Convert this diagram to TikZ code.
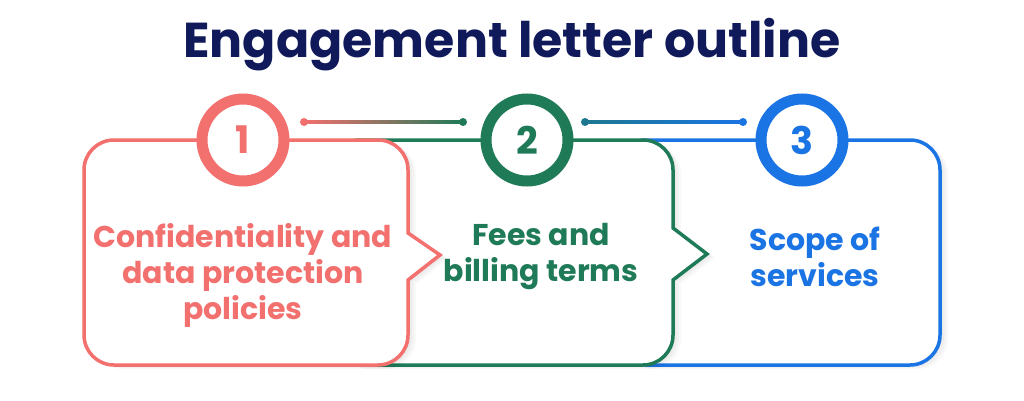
\documentclass[tikz,border=0pt]{standalone}
\usepackage{fontspec}
\setmainfont{Poppins}
\usetikzlibrary{calc}
\definecolor{cred}{HTML}{F2706E}
\definecolor{cgreen}{HTML}{1F7A57}
\definecolor{cblue}{HTML}{1B74E4}
\definecolor{cnavy}{HTML}{101A5A}
% #1 left, #2 right, #3 top, #4 bottom
\newcommand\plainboxpath[4]{(#1+30,#3) -- (#2-30,#3) arc[start angle=90,end angle=0,radius=30] -- (#2,#4+30) arc[start angle=0,end angle=-90,radius=30] -- (#1+30,#4) arc[start angle=270,end angle=180,radius=30] -- (#1,#3-30) arc[start angle=180,end angle=90,radius=30] -- cycle}
% #5 notch upper y, #6 tip x, #7 tip y, #8 notch lower y
\newcommand\notchboxpath[8]{(#1+30,#3) -- (#2-30,#3) arc[start angle=90,end angle=0,radius=30] -- (#2,#5) -- (#6,#7) -- (#2,#8) -- (#2,#4+30) arc[start angle=0,end angle=-90,radius=30] -- (#1+30,#4) arc[start angle=270,end angle=180,radius=30] -- (#1,#3-30) arc[start angle=180,end angle=90,radius=30] -- cycle}
\tikzset{
  boxline/.style={line width=3.5pt, fill=white},
  shadowfill/.style={fill=black, fill opacity=0.025, draw=none},
  ring/.style={circle, minimum size=82pt, inner sep=0pt, line width=11pt, fill=white, font=\bfseries\fontsize{38}{44}\selectfont},
  boxtext/.style={align=center, font=\bfseries\fontsize{30}{36}\selectfont},
  dot/.style={circle, inner sep=0pt, minimum size=8pt},
}
\begin{document}
\begin{tikzpicture}[x=1pt,y=1pt]
\useasboundingbox (0,0) rectangle (1024,400);
\fill[white] (0,0) rectangle (1024,400);
% title
\node[font=\bfseries\fontsize{49}{56}\selectfont, text=cnavy, anchor=base] (title) at (512,343) {Engagement letter outline};
% box 3
\foreach \s in {2,4,6,8}{\fill[shadowfill, xshift=\s pt, yshift=-\s*0.5 pt] \plainboxpath{616}{940}{260}{35};}
\draw[boxline, draw=cblue] \plainboxpath{616}{940}{260}{35};
% box 2
\foreach \s in {2,4,6,8}{\fill[shadowfill, xshift=\s pt, yshift=-\s*0.5 pt] \notchboxpath{330}{673}{260}{35}{172}{707}{146}{120};}
\draw[boxline, draw=cgreen] \notchboxpath{330}{673}{260}{35}{172}{707}{146}{120};
% box 1
\foreach \s in {2,4,6,8}{\fill[shadowfill, xshift=\s pt, yshift=-\s*0.5 pt] \notchboxpath{84}{408}{260}{35}{167}{440}{145}{120};}
\draw[boxline, draw=cred] \notchboxpath{84}{408}{260}{35}{167}{440}{145}{120};
% circles
\node[ring, draw=cred, text=cred] (c1) at (243,260) {1};
\node[ring, draw=cgreen, text=cgreen] (c2) at (527,260) {2};
\node[ring, draw=cblue, text=cblue] (c3) at (802,260) {3};
% connectors
\node[dot, fill=cred] (d1a) at (304,278) {};
\node[dot, fill=cgreen] (d1b) at (463,278) {};
\node[dot, fill=cgreen!60!cblue] (d2a) at (585,278) {};
\node[dot, fill=cblue] (d2b) at (743,278) {};
\shade[left color=cred, right color=cgreen, middle color=cred!50!cgreen] ($(d1a.center)+(0,-1.1)$) rectangle ($(d1b.center)+(0,1.1)$);
\shade[left color=cgreen!60!cblue, right color=cblue] ($(d2a.center)+(0,-1.1)$) rectangle ($(d2b.center)+(0,1.1)$);
% texts
\node[boxtext, text=cred] (t1) at (243,125) {Confidentiality and\\data protection\\policies};
\node[boxtext, text=cgreen] (t2) at (541,143) {Fees and\\billing terms};
\node[boxtext, text=cblue] (t3) at (815,143) {Scope of\\services};
\end{tikzpicture}
\end{document}
